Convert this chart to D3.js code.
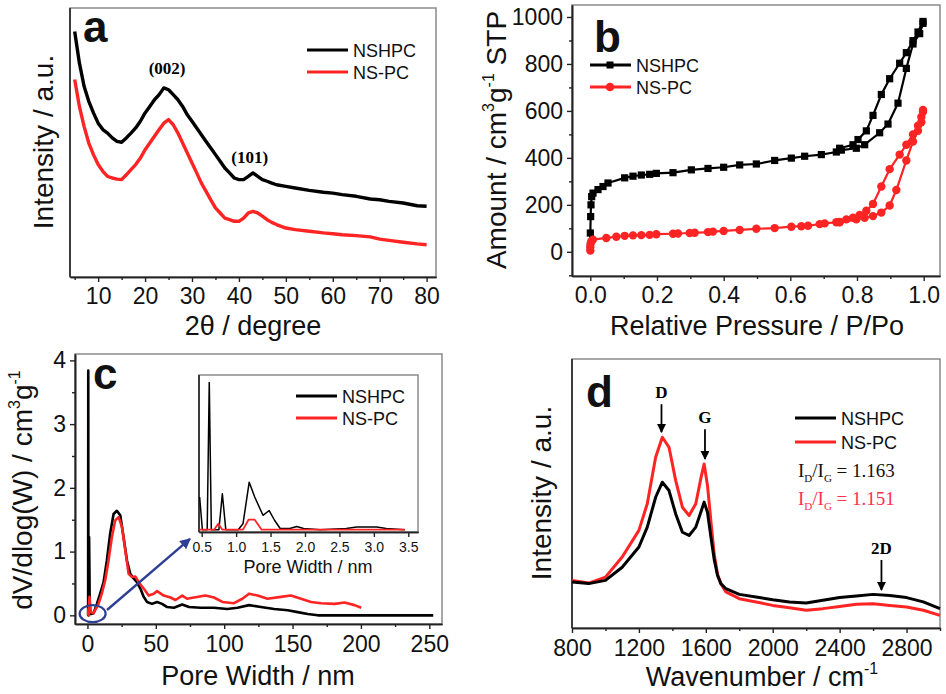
<!DOCTYPE html>
<html>
<head>
<meta charset="utf-8">
<script src="https://cdnjs.cloudflare.com/ajax/libs/d3/7.8.5/d3.min.js"></script>
<style>
body { margin: 0; background: #fff; }
text { font-family: Arial, "Liberation Sans", sans-serif; }
.serif { font-family: "Liberation Serif", "Times New Roman", serif; }
</style>
</head>
<body>
<svg id="fig" width="946" height="694"></svg>
<script>
// ---- panel a : XRD ----
var xrdAngle = [5,6,7,8,9,10,11,12,13,14,15,16,17,18,19,20,21,22,23,24,25,26,27,28,29,30,31,32,33,34,35,36,37,38,39,40,41,42,43,44,45,46,47,48,50,52,55,58,60,62,65,68,70,72,75,78,80];
var xrdNSHPC = [91.3,79.6,70.9,65.3,61.0,57.2,54.8,53.5,51.7,50.4,50.1,51.7,53.5,55.4,57.9,61.0,63.4,65.9,67.8,70.3,69.6,67.8,65.9,63.4,60.3,57.9,55.4,52.9,50.4,48.0,45.5,43.0,40.5,38.7,36.8,36.2,36.2,37.4,38.7,37.4,36.2,35.6,34.9,34.3,33.7,33.1,32.2,31.5,31.2,30.6,30.0,29.0,28.7,28.1,27.5,26.5,26.3];
var xrdNSPC = [73.4,63.4,56.0,49.8,45.5,41.8,39.3,37.4,36.8,36.4,36.2,38.0,39.9,41.8,44.2,47.3,49.8,52.3,54.8,57.2,58.5,56.6,53.5,49.8,46.1,42.4,38.7,34.9,31.8,28.7,25.7,23.8,21.9,21.3,20.7,20.7,21.9,23.8,24.4,23.8,22.6,21.3,20.3,19.5,18.2,17.6,17.0,16.4,16.1,15.7,15.4,14.9,14.1,13.6,12.9,12.3,12.0];
var xrdTicks = [10,20,30,40,50,60,70,80];
var xrdMinor = [5,15,25,35,45,55,65,75];

// ---- panel b : N2 isotherms ----
var nshpcAdsP = [0.000,0.000,0.001,0.002,0.004,0.008,0.023,0.038,0.053,0.103,0.128,0.153,0.178,0.198,0.248,0.303,0.353,0.400,0.448,0.498,0.553,0.603,0.643,0.693,0.738,0.753,0.798,0.823,0.868,0.893,0.923,0.948,0.968,0.988,0.998];
var nshpcAdsV = [20,80,150,200,235,250,265,278,293,315,322,327,330,334,337,349,355,360,370,374,389,399,407,414,425,433,441,456,507,544,633,781,885,929,973];
var nshpcDesP = [0.998,0.983,0.968,0.948,0.928,0.898,0.873,0.848,0.828,0.803,0.788,0.748];
var nshpcDesV = [981,936,899,848,803,737,670,581,515,478,456,441];
var nspcAdsP = [0.000,0.000,0.001,0.003,0.008,0.048,0.078,0.103,0.128,0.153,0.178,0.198,0.248,0.263,0.298,0.313,0.353,0.368,0.400,0.448,0.498,0.553,0.603,0.633,0.653,0.688,0.703,0.738,0.748,0.798,0.823,0.848,0.873,0.898,0.918,0.948,0.968,0.983,0.993,0.998];
var nspcAdsV = [5,20,35,45,52,59,64,68,70,71,72,75,77,78,80,81,84,86,89,93,98,101,107,109,111,118,121,126,126,138,145,152,167,197,263,389,470,515,552,596];
var nspcDesP = [0.998,0.993,0.983,0.968,0.948,0.928,0.898,0.873,0.848,0.828,0.808,0.788,0.768,0.748];
var nspcDesV = [604,574,537,500,456,414,352,278,204,175,157,145,138,127];
var betXTicks = [0,0.2,0.4,0.6,0.8,1.0];
var betXMinor = [0.1,0.3,0.5,0.7,0.9];
var betYTicks = [0,200,400,600,800,1000];
var betYMinor = [-100,100,300,500,700,900];

// ---- panel c : pore size distribution ----
var psdWBlack = [0.5,0.6,0.7,0.8,0.9,1.2,1.5,1.7,2.5,4.4,6.9,9.3,11.8,14.2,16.6,19.1,21.5,24.0,26.4,28.9,31.3,33.8,36.2,38.7,41.1,43.6,47.2,50.9,54.6,58.3,63.2,69.3,74.2,82.7,92.5,102.3,109.7,118.2,126.8,136.6,146.4,153.7,161.1,168.4,180.7,252.9];
var psdBlack = [0,3.84,0,0.9,0,1.23,0.6,0.05,0.02,0.03,0.18,0.34,0.52,0.86,1.28,1.59,1.64,1.57,1.23,0.86,0.65,0.58,0.52,0.42,0.29,0.21,0.18,0.21,0.18,0.13,0.12,0.17,0.13,0.12,0.12,0.10,0.12,0.16,0.13,0.10,0.08,0.05,0.02,0,0,0];
var psdWRed = [0.5,0.75,1.0,1.25,1.5,2.5,4.4,8.1,10.5,13.0,15.4,17.9,20.3,22.8,25.2,27.7,30.1,32.6,35.0,37.5,41.1,44.8,48.5,50.9,55.8,60.7,64.4,69.3,72.9,77.8,86.4,92.5,98.7,107.2,113.3,118.2,124.4,131.7,141.5,148.8,156.2,163.5,170.9,180.7,188.0,195.3,200.2];
var psdRed = [0,0.1,0,0.2,0.29,0.05,0.03,0.18,0.34,0.55,0.86,1.23,1.49,1.54,1.39,1.02,0.65,0.60,0.61,0.52,0.42,0.31,0.34,0.38,0.31,0.28,0.24,0.31,0.26,0.28,0.31,0.28,0.21,0.19,0.26,0.34,0.31,0.26,0.29,0.31,0.26,0.21,0.19,0.18,0.20,0.16,0.12];
var psdXTicks = [0,50,100,150,200,250];
var psdXMinor = [25,75,125,175,225];
var psdYTicks = [0,1,2,3,4];
var psdYMinor = [0.5,1.5,2.5,3.5];
// inset (micropores)
var insetWBlack = [0.47,0.51,0.58,0.61,0.64,0.75,0.80,0.85,1.03,1.10,1.19,1.27,1.39,1.48,1.56,1.64,1.78,1.88,1.98,2.22,2.60,2.75,3.04,3.18,3.45];
var insetBlack = [0.82,0,0,3.69,0,0,0.9,0,0,0.15,1.19,0.82,0.36,0.48,0.23,0.03,0.03,0.08,0.03,0,0.03,0.07,0.07,0.03,0];
var insetWRed = [0.47,0.68,0.74,0.80,1.10,1.18,1.27,1.37,3.45];
var insetRed = [0,0,0.15,0,0,0.25,0.25,0,0];
var insetTicks = [0.5,1.0,1.5,2.0,2.5,3.0,3.5];

// ---- panel d : Raman ----
var ramanWave = [800,900,1000,1100,1200,1250,1300,1340,1380,1420,1460,1500,1540,1570,1590,1610,1630,1650,1670,1690,1720,1800,1900,2000,2100,2200,2300,2400,2500,2600,2700,2800,2900,3000];
var ramanNSHPC = [17.1,16.5,17.7,22.6,30.1,37.5,48.6,54.2,51.1,42.4,35.6,34.4,37.5,43.0,46.8,43.0,34.0,25.5,19.5,16.5,14.6,12.5,11.5,10.5,9.7,9.3,10.3,11.3,11.9,12.5,12.1,11.3,9.7,7.2];
var ramanNSPC = [17.7,16.7,18.9,26.4,36.3,46.2,63.5,70.9,67.2,54.8,44.9,41.8,46.2,55.5,61.0,53.0,40.0,27.5,20.0,16.5,13.4,10.9,9.7,8.4,7.5,6.6,7.2,8.0,8.8,9.0,8.4,7.8,6.6,4.7];
var ramanTicks = [800,1200,1600,2000,2400,2800];
var ramanMinor = [1000,1400,1800,2200,2600,3000];

var RED = "#ff2424";
var svg = d3.select("#fig");

var defs = svg.append("defs");
defs.append("marker").attr("id", "arrK")
  .attr("viewBox", "0 0 10 10").attr("refX", 9).attr("refY", 5)
  .attr("markerWidth", 5).attr("markerHeight", 5).attr("orient", "auto")
  .append("path").attr("d", "M0,0L10,5L0,10z").attr("fill", "#000");
defs.append("marker").attr("id", "arrB")
  .attr("viewBox", "0 0 10 10").attr("refX", 9).attr("refY", 5)
  .attr("markerWidth", 4.5).attr("markerHeight", 4.5).attr("orient", "auto")
  .append("path").attr("d", "M0,0L10,5L0,10z").attr("fill", "#2f3f94");

function makePanel(x0, x1, y0, y1, xDom, yDom) {
  var p = {x0: x0, x1: x1, y0: y0, y1: y1};
  p.x = d3.scaleLinear().domain(xDom).range([x0, x1]);
  p.y = d3.scaleLinear().domain(yDom).range([y1, y0]);
  p.g = svg.append("g");
  p.g.append("rect").attr("x", x0).attr("y", y0)
    .attr("width", x1 - x0).attr("height", y1 - y0)
    .attr("fill", "#fff").attr("stroke", "#8a8a8a").attr("stroke-width", 1.5);
  return p;
}

function styleAxis(sel, fs) {
  sel.select(".domain").attr("stroke", "#222").attr("stroke-width", 1.6);
  sel.selectAll(".tick line").attr("stroke", "#222").attr("stroke-width", 1.4);
  sel.selectAll("text").attr("font-size", fs).attr("fill", "#111")
    .attr("font-family", "Arial, 'Liberation Sans', sans-serif");
}

function bottomAxis(p, major, minor, fmt, fs, pad) {
  p.g.append("g").attr("transform", "translate(0," + p.y1 + ")")
    .call(d3.axisBottom(p.x).tickValues(minor).tickSize(3).tickSizeOuter(0).tickFormat(""))
    .call(styleAxis, fs);
  p.g.append("g").attr("transform", "translate(0," + p.y1 + ")")
    .call(d3.axisBottom(p.x).tickValues(major).tickSize(5).tickSizeOuter(0).tickPadding(pad).tickFormat(fmt))
    .call(styleAxis, fs);
}

function leftAxis(p, major, minor, fmt, fs) {
  p.g.append("g").attr("transform", "translate(" + p.x0 + ",0)")
    .call(d3.axisLeft(p.y).tickValues(minor).tickSize(3).tickSizeOuter(0).tickFormat(""))
    .call(styleAxis, fs);
  p.g.append("g").attr("transform", "translate(" + p.x0 + ",0)")
    .call(d3.axisLeft(p.y).tickValues(major).tickSize(5).tickSizeOuter(0).tickPadding(4).tickFormat(fmt))
    .call(styleAxis, fs);
}

function plainLeft(p) {
  p.g.append("line").attr("x1", p.x0).attr("x2", p.x0).attr("y1", p.y0).attr("y2", p.y1)
    .attr("stroke", "#222").attr("stroke-width", 1.6);
}

function drawLine(p, xs, ys, color, w) {
  var pts = xs.map(function(v, i) { return [v, ys[i]]; });
  p.g.append("path").datum(pts)
    .attr("d", d3.line().x(function(d) { return p.x(d[0]); }).y(function(d) { return p.y(d[1]); }))
    .attr("fill", "none").attr("stroke", color).attr("stroke-width", w)
    .attr("stroke-linejoin", "round");
}

function xTitle(x, y, txt, sup) {
  var t = svg.append("text").attr("x", x).attr("y", y).attr("text-anchor", "middle")
    .attr("font-size", 27).attr("fill", "#111").text(txt);
  if (sup) t.append("tspan").attr("font-size", 16).attr("dy", -12).text(sup);
}

function yTitle(x, y, parts) {
  var t = svg.append("text").attr("transform", "translate(" + x + "," + y + ") rotate(-90)")
    .attr("text-anchor", "middle").attr("font-size", 28).attr("fill", "#111");
  var shift = 0;
  parts.forEach(function(s) {
    var sup = s.charAt(0) === "^";
    var dy = sup ? -12 - shift : -shift;
    t.append("tspan").attr("dy", dy).attr("font-size", sup ? 16 : 28).text(sup ? s.slice(1) : s);
    shift = sup ? -12 : 0;
  });
}

function panelLetter(x, y, l) {
  svg.append("text").attr("x", x).attr("y", y).attr("font-size", 44)
    .attr("font-weight", "bold").attr("fill", "#111").text(l);
}

function legendLine(x, y, color, label, fs) {
  svg.append("line").attr("x1", x).attr("x2", x + 41).attr("y1", y).attr("y2", y)
    .attr("stroke", color).attr("stroke-width", 3);
  svg.append("text").attr("x", x + 46).attr("y", y + 7).attr("font-size", fs)
    .attr("fill", "#111").text(label);
}

// ================= panel a =================
var pa = makePanel(70, 436, 8, 277, [4, 82], [0, 100]);
plainLeft(pa);
bottomAxis(pa, xrdTicks, xrdMinor, d3.format("d"), 23, 6);
drawLine(pa, xrdAngle, xrdNSPC, RED, 3.4);
drawLine(pa, xrdAngle, xrdNSHPC, "#000", 3.4);
pa.g.append("text").attr("class", "serif").attr("x", pa.x(24.7)).attr("y", pa.y(75.5))
  .attr("text-anchor", "middle").attr("font-size", 17).attr("font-weight", "bold").text("(002)");
pa.g.append("text").attr("class", "serif").attr("x", pa.x(42.3)).attr("y", pa.y(42.5))
  .attr("text-anchor", "middle").attr("font-size", 17).attr("font-weight", "bold").text("(101)");
legendLine(307, 50, "#000", "NSHPC", 18);
legendLine(307, 72, RED, "NS-PC", 18);
panelLetter(83, 42, "a");
xTitle(253, 335, "2\u03b8 / degree");
yTitle(53, 142, ["Intensity / a.u."]);

// ================= panel b =================
var pb = makePanel(572, 940, 5, 276, [-0.055, 1.049], [-103, 1051]);
bottomAxis(pb, betXTicks, betXMinor, d3.format(".1f"), 23, 6);
leftAxis(pb, betYTicks, betYMinor, d3.format("d"), 23);

function isotherm(ps, vs, color, shape) {
  drawLine(pb, ps, vs, color, 2.2);
  var pts = ps.map(function(v, i) { return [v, vs[i]]; });
  if (shape === "square") {
    pb.g.append("g").selectAll("rect").data(pts).join("rect")
      .attr("x", function(d) { return pb.x(d[0]) - 3.6; })
      .attr("y", function(d) { return pb.y(d[1]) - 3.6; })
      .attr("width", 7.2).attr("height", 7.2).attr("fill", color);
  } else {
    pb.g.append("g").selectAll("circle").data(pts).join("circle")
      .attr("cx", function(d) { return pb.x(d[0]); })
      .attr("cy", function(d) { return pb.y(d[1]); })
      .attr("r", 4.2).attr("fill", color);
  }
}
isotherm(nshpcAdsP, nshpcAdsV, "#000", "square");
isotherm(nshpcDesP, nshpcDesV, "#000", "square");
isotherm(nspcAdsP, nspcAdsV, RED, "circle");
isotherm(nspcDesP, nspcDesV, RED, "circle");
legendLine(590, 65, "#000", "NSHPC", 18);
svg.append("rect").attr("x", 606.5).attr("y", 61.5).attr("width", 7).attr("height", 7).attr("fill", "#000");
legendLine(590, 87, RED, "NS-PC", 18);
svg.append("circle").attr("cx", 610).attr("cy", 87).attr("r", 4.3).attr("fill", RED);
panelLetter(594, 52, "b");
xTitle(757, 335, "Relative Pressure / P/Po");
yTitle(506, 140, ["Amount / cm", "^3", "g", "^-1", " STP"]);

// ================= panel c =================
var pc = makePanel(75, 442, 354, 624, [-9.1, 259.3], [-0.136, 4.1]);
bottomAxis(pc, psdXTicks, psdXMinor, d3.format("d"), 23, 7);
leftAxis(pc, psdYTicks, psdYMinor, d3.format("d"), 23);
drawLine(pc, psdWBlack, psdBlack, "#000", 2.6);
drawLine(pc, psdWRed, psdRed, RED, 2.6);

// magnifier ellipse and arrow
pc.g.append("ellipse").attr("cx", pc.x(3.8)).attr("cy", pc.y(0.026))
  .attr("rx", 13).attr("ry", 8.5).attr("fill", "none")
  .attr("stroke", "#2f3f94").attr("stroke-width", 2.2);
pc.g.append("line").attr("x1", pc.x(14.3)).attr("y1", pc.y(0.084))
  .attr("x2", pc.x(75)).attr("y2", pc.y(1.2))
  .attr("stroke", "#2f3f94").attr("stroke-width", 2.4).attr("marker-end", "url(#arrB)");

// inset
var pi = makePanel(199, 418, 375, 532, [0.461, 3.641], [-0.058, 3.875]);
plainLeft(pi);
bottomAxis(pi, insetTicks, [], d3.format(".1f"), 14, 5);
drawLine(pi, insetWBlack, insetBlack, "#000", 1.5);
drawLine(pi, insetWRed, insetRed, RED, 1.8);
svg.append("text").attr("x", 308).attr("y", 573).attr("text-anchor", "middle")
  .attr("font-size", 18).attr("fill", "#111").text("Pore Width / nm");
legendLine(296, 396, "#000", "NSHPC", 18);
legendLine(296, 418, RED, "NS-PC", 18);
panelLetter(93, 389, "c");
xTitle(258, 685, "Pore Width / nm");
yTitle(32, 490, ["dV/dlog(W) / cm", "^3", "g", "^-1"]);

// ================= panel d =================
var pd = makePanel(572, 940, 359, 628, [800, 3000], [0, 100]);
plainLeft(pd);
bottomAxis(pd, ramanTicks, ramanMinor, d3.format("d"), 23, 7);
drawLine(pd, ramanWave, ramanNSPC, RED, 3);
drawLine(pd, ramanWave, ramanNSHPC, "#000", 3);

function peakArrow(wn, yTop, yBot, label) {
  pd.g.append("line").attr("x1", pd.x(wn)).attr("x2", pd.x(wn))
    .attr("y1", pd.y(yTop)).attr("y2", pd.y(yBot))
    .attr("stroke", "#000").attr("stroke-width", 1.8).attr("marker-end", "url(#arrK)");
  pd.g.append("text").attr("class", "serif").attr("x", pd.x(wn)).attr("y", pd.y(yTop) - 6)
    .attr("text-anchor", "middle").attr("font-size", 17).attr("font-weight", "bold").text(label);
}
peakArrow(1335, 83.2, 72.8, "D");
peakArrow(1595, 73.9, 62.8, "G");
peakArrow(2650, 25.3, 14.1, "2D");

legendLine(795, 418, "#000", "NSHPC", 18);
legendLine(795, 442, RED, "NS-PC", 18);

function ratioText(y, color, val) {
  var t = svg.append("text").attr("class", "serif").attr("x", 798).attr("y", y)
    .attr("font-size", 19).attr("fill", color);
  t.append("tspan").text("I");
  t.append("tspan").attr("font-size", 11).attr("dy", 5).text("D");
  t.append("tspan").attr("dy", -5).text("/I");
  t.append("tspan").attr("font-size", 11).attr("dy", 5).text("G");
  t.append("tspan").attr("dy", -5).text(" = " + val);
}
ratioText(477, "#111", "1.163");
ratioText(505, "#ff3050", "1.151");
panelLetter(586, 407, "d");
xTitle(762, 686, "Wavenumber / cm", "-1");
yTitle(551, 493, ["Intensity / a.u."]);
</script>
</body>
</html>
